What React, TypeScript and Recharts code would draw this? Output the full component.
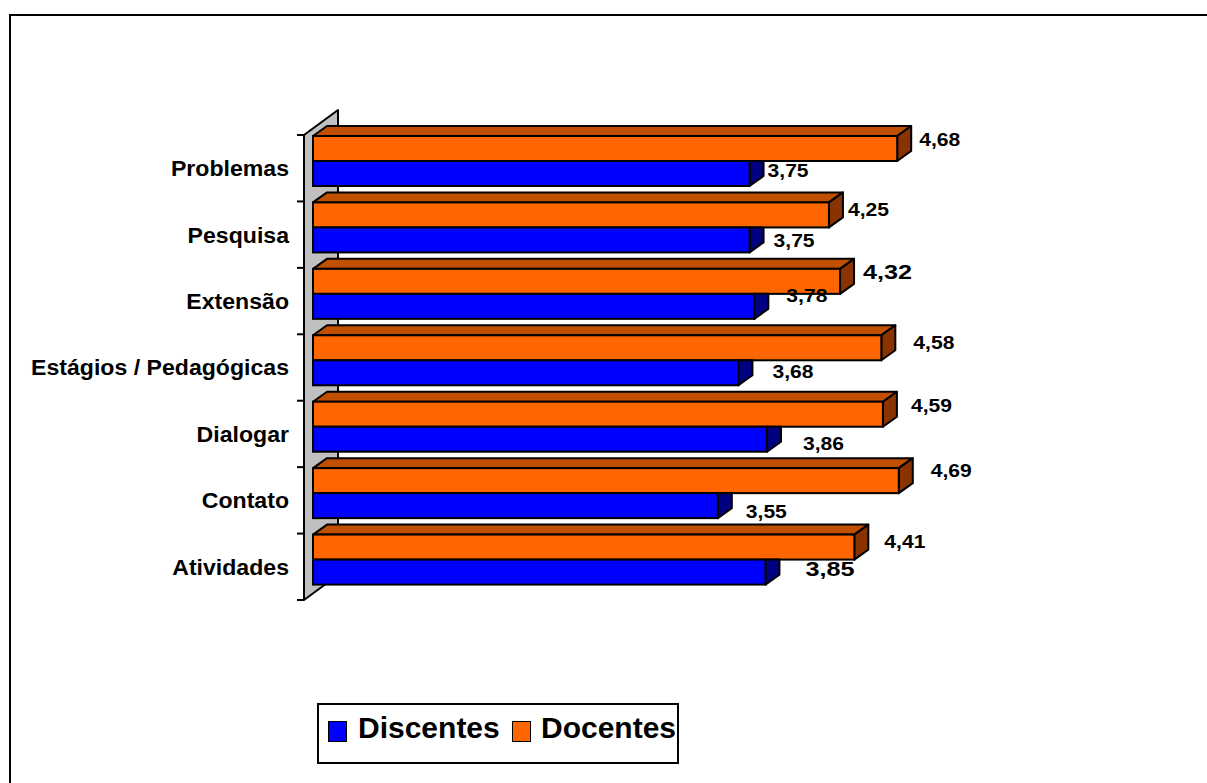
import React from 'react';
import { BarChart, Bar, XAxis, YAxis, ReferenceArea, LabelList } from 'recharts';

const categories = ['Problemas', 'Pesquisa', 'Extensão', 'Estágios / Pedagógicas', 'Dialogar', 'Contato', 'Atividades'];
const discentes = [3.75, 3.75, 3.78, 3.68, 3.86, 3.55, 3.85];
const docentes = [4.68, 4.25, 4.32, 4.58, 4.59, 4.69, 4.41];
const valueDomain = [1, 5];
const seriesNames = ['Discentes', 'Docentes'];

// hand-placed labels in the original: [dx from bar end, dy from bar middle]
const docentesLabelNudge = [[22, -9], [19, -6], [23, -10], [32, -5], [28, -9], [32, -10], [30, -6]];
const discentesLabelNudge = [[18, -3], [24, 0], [32, -11], [34, -1], [36, 4], [28, 6], [40, -4]];
const docentesBigLabels = [2];
const discentesBigLabels = [6];

const data = categories.map((name, i) => ({ name, discentes: discentes[i], docentes: docentes[i] }));

const FONT = '"Liberation Sans", Arial, Helvetica, sans-serif';
const W = 1207;
const H = 783;
const DX = 14; // 3d depth
const DY = 10;
const LIFT = 7;
const EDGE = 2;

const BLUE = '#0000FF';
const BLUE_SIDE = '#000080';
const ORANGE = '#FF6600';
const ORANGE_TOP = '#C05000';
const ORANGE_SIDE = '#883300';

const fmt = (v: number) => v.toFixed(2).replace('.', ',');

const make3DBar = (front: string, top: string, side: string, hidden: boolean) => (props: any) => {
  const { x, y, width, height } = props;
  if (width == null || width <= 0) return <g />;
  const y0 = y - LIFT;
  const r = x + width;
  const sidePts = hidden
    ? `${r},${y0} ${r + DX},${y0} ${r + DX},${y0 + height - DY} ${r},${y0 + height}`
    : `${r},${y0} ${r + DX},${y0 - DY} ${r + DX},${y0 + height - DY} ${r},${y0 + height}`;
  return (
    <g>
      {!hidden && (
        <polygon
          points={`${x},${y0} ${x + DX},${y0 - DY} ${r + DX},${y0 - DY} ${r},${y0}`}
          fill={top}
          stroke="#000"
          strokeWidth={EDGE}
          strokeLinejoin="round"
        />
      )}
      <polygon points={sidePts} fill={side} stroke="#000" strokeWidth={EDGE} strokeLinejoin="round" />
      <rect x={x} y={y0} width={width} height={height} fill={front} stroke="#000" strokeWidth={EDGE} />
    </g>
  );
};

const makeLabel = (nudges: number[][], big: number[]) => (props: any) => {
  const vb = props.viewBox || {};
  const x = props.x ?? vb.x;
  const y = props.y ?? vb.y;
  const width = props.width ?? vb.width;
  const height = props.height ?? vb.height;
  const index = props.index ?? 0;
  const value = Number(props.value);
  const [dx, dy] = nudges[index] || [15, 0];
  const isBig = big.includes(index);
  const fs = isBig ? 21 : 18.5;
  const sx = isBig ? 1.2 : 1.14;
  const baseline = y - LIFT + height / 2 + dy + (fs * 0.716) / 2;
  const tx = x + width + dx;
  return (
    <text
      transform={`translate(${tx},${baseline}) scale(${sx},1)`}
      x={0}
      y={0}
      fontSize={fs}
      fontWeight="bold"
      fontFamily={FONT}
      fill="#000"
    >
      {fmt(value)}
    </text>
  );
};

const Wall = (props: any) => {
  const { x, y, width, height } = props;
  if (x == null) return <g />;
  const fx = x - 9;
  const bx = x + 25;
  const rise = 25;
  const band = height / categories.length;
  const ticks = Array.from({ length: categories.length + 1 }, (_, i) => y + i * band);
  return (
    <g>
      <polygon
        points={`${fx},${y} ${bx},${y - rise} ${bx},${y + height - rise} ${fx},${y + height}`}
        fill="#C0C0C0"
        stroke="#000"
        strokeWidth={EDGE}
        strokeLinejoin="round"
      />
      <line x1={fx} y1={y} x2={fx} y2={y + height} stroke="#000" strokeWidth={2} />
      {ticks.map((t, i) => (
        <line key={i} x1={fx - 7} y1={t} x2={fx} y2={t} stroke="#000" strokeWidth={2} />
      ))}
    </g>
  );
};

const CategoryTick = (props: any) => {
  const { x, y, payload } = props;
  const fs = 22;
  return (
    <text
      transform={`translate(${x},${y + (fs * 0.716) / 2}) scale(1.05,1)`}
      x={0}
      y={0}
      textAnchor="end"
      fontSize={fs}
      fontWeight="bold"
      fontFamily={FONT}
      fill="#000"
    >
      {payload.value}
    </text>
  );
};

const LegendBox = () => {
  const swatch = (left: number, color: string) => (
    <div
      style={{
        position: 'absolute',
        left,
        top: 16,
        width: 17,
        height: 19,
        background: color,
        border: '1.5px solid #000',
      }}
    />
  );
  const label = (left: number, text: string) => (
    <div
      style={{
        position: 'absolute',
        left,
        top: 8,
        fontFamily: FONT,
        fontWeight: 'bold',
        fontSize: 30,
        lineHeight: '30px',
        color: '#000',
        whiteSpace: 'nowrap',
      }}
    >
      {text}
    </div>
  );
  return (
    <div
      style={{
        position: 'absolute',
        left: 317,
        top: 703,
        width: 358,
        height: 57,
        border: '2px solid #000',
        background: '#fff',
      }}
    >
      {swatch(9, BLUE)}
      {label(39, seriesNames[0])}
      {swatch(193, ORANGE)}
      {label(222, seriesNames[1])}
    </div>
  );
};

export default function App() {
  return (
    <div style={{ position: 'absolute', left: 0, top: 0, width: W, height: H, overflow: 'hidden', background: '#fff' }}>
      <div
        style={{
          position: 'absolute',
          left: 9,
          top: 14,
          width: W + 20,
          height: H + 20,
          borderTop: '2px solid #000',
          borderLeft: '2px solid #000',
        }}
      />
      <div style={{ position: 'absolute', left: 0, top: 0 }}>
        <BarChart
          width={W}
          height={H}
          data={data}
          layout="vertical"
          margin={{ top: 135, right: 259, bottom: 183, left: 0 }}
          barGap={0}
          barSize={25}
        >
          <XAxis type="number" domain={valueDomain} hide />
          <YAxis
            type="category"
            dataKey="name"
            width={313}
            axisLine={false}
            tickLine={false}
            tickSize={0}
            tickMargin={24}
            interval={0}
            tick={<CategoryTick />}
          />
          <ReferenceArea x1={valueDomain[0]} x2={valueDomain[1]} shape={Wall} fill="none" stroke="none" />
          <Bar
            dataKey="docentes"
            name={seriesNames[1]}
            isAnimationActive={false}
            shape={make3DBar(ORANGE, ORANGE_TOP, ORANGE_SIDE, false)}
          >
            <LabelList dataKey="docentes" content={makeLabel(docentesLabelNudge, docentesBigLabels)} />
          </Bar>
          <Bar
            dataKey="discentes"
            name={seriesNames[0]}
            isAnimationActive={false}
            shape={make3DBar(BLUE, BLUE, BLUE_SIDE, true)}
          >
            <LabelList dataKey="discentes" content={makeLabel(discentesLabelNudge, discentesBigLabels)} />
          </Bar>
        </BarChart>
      </div>
      <LegendBox />
    </div>
  );
}
